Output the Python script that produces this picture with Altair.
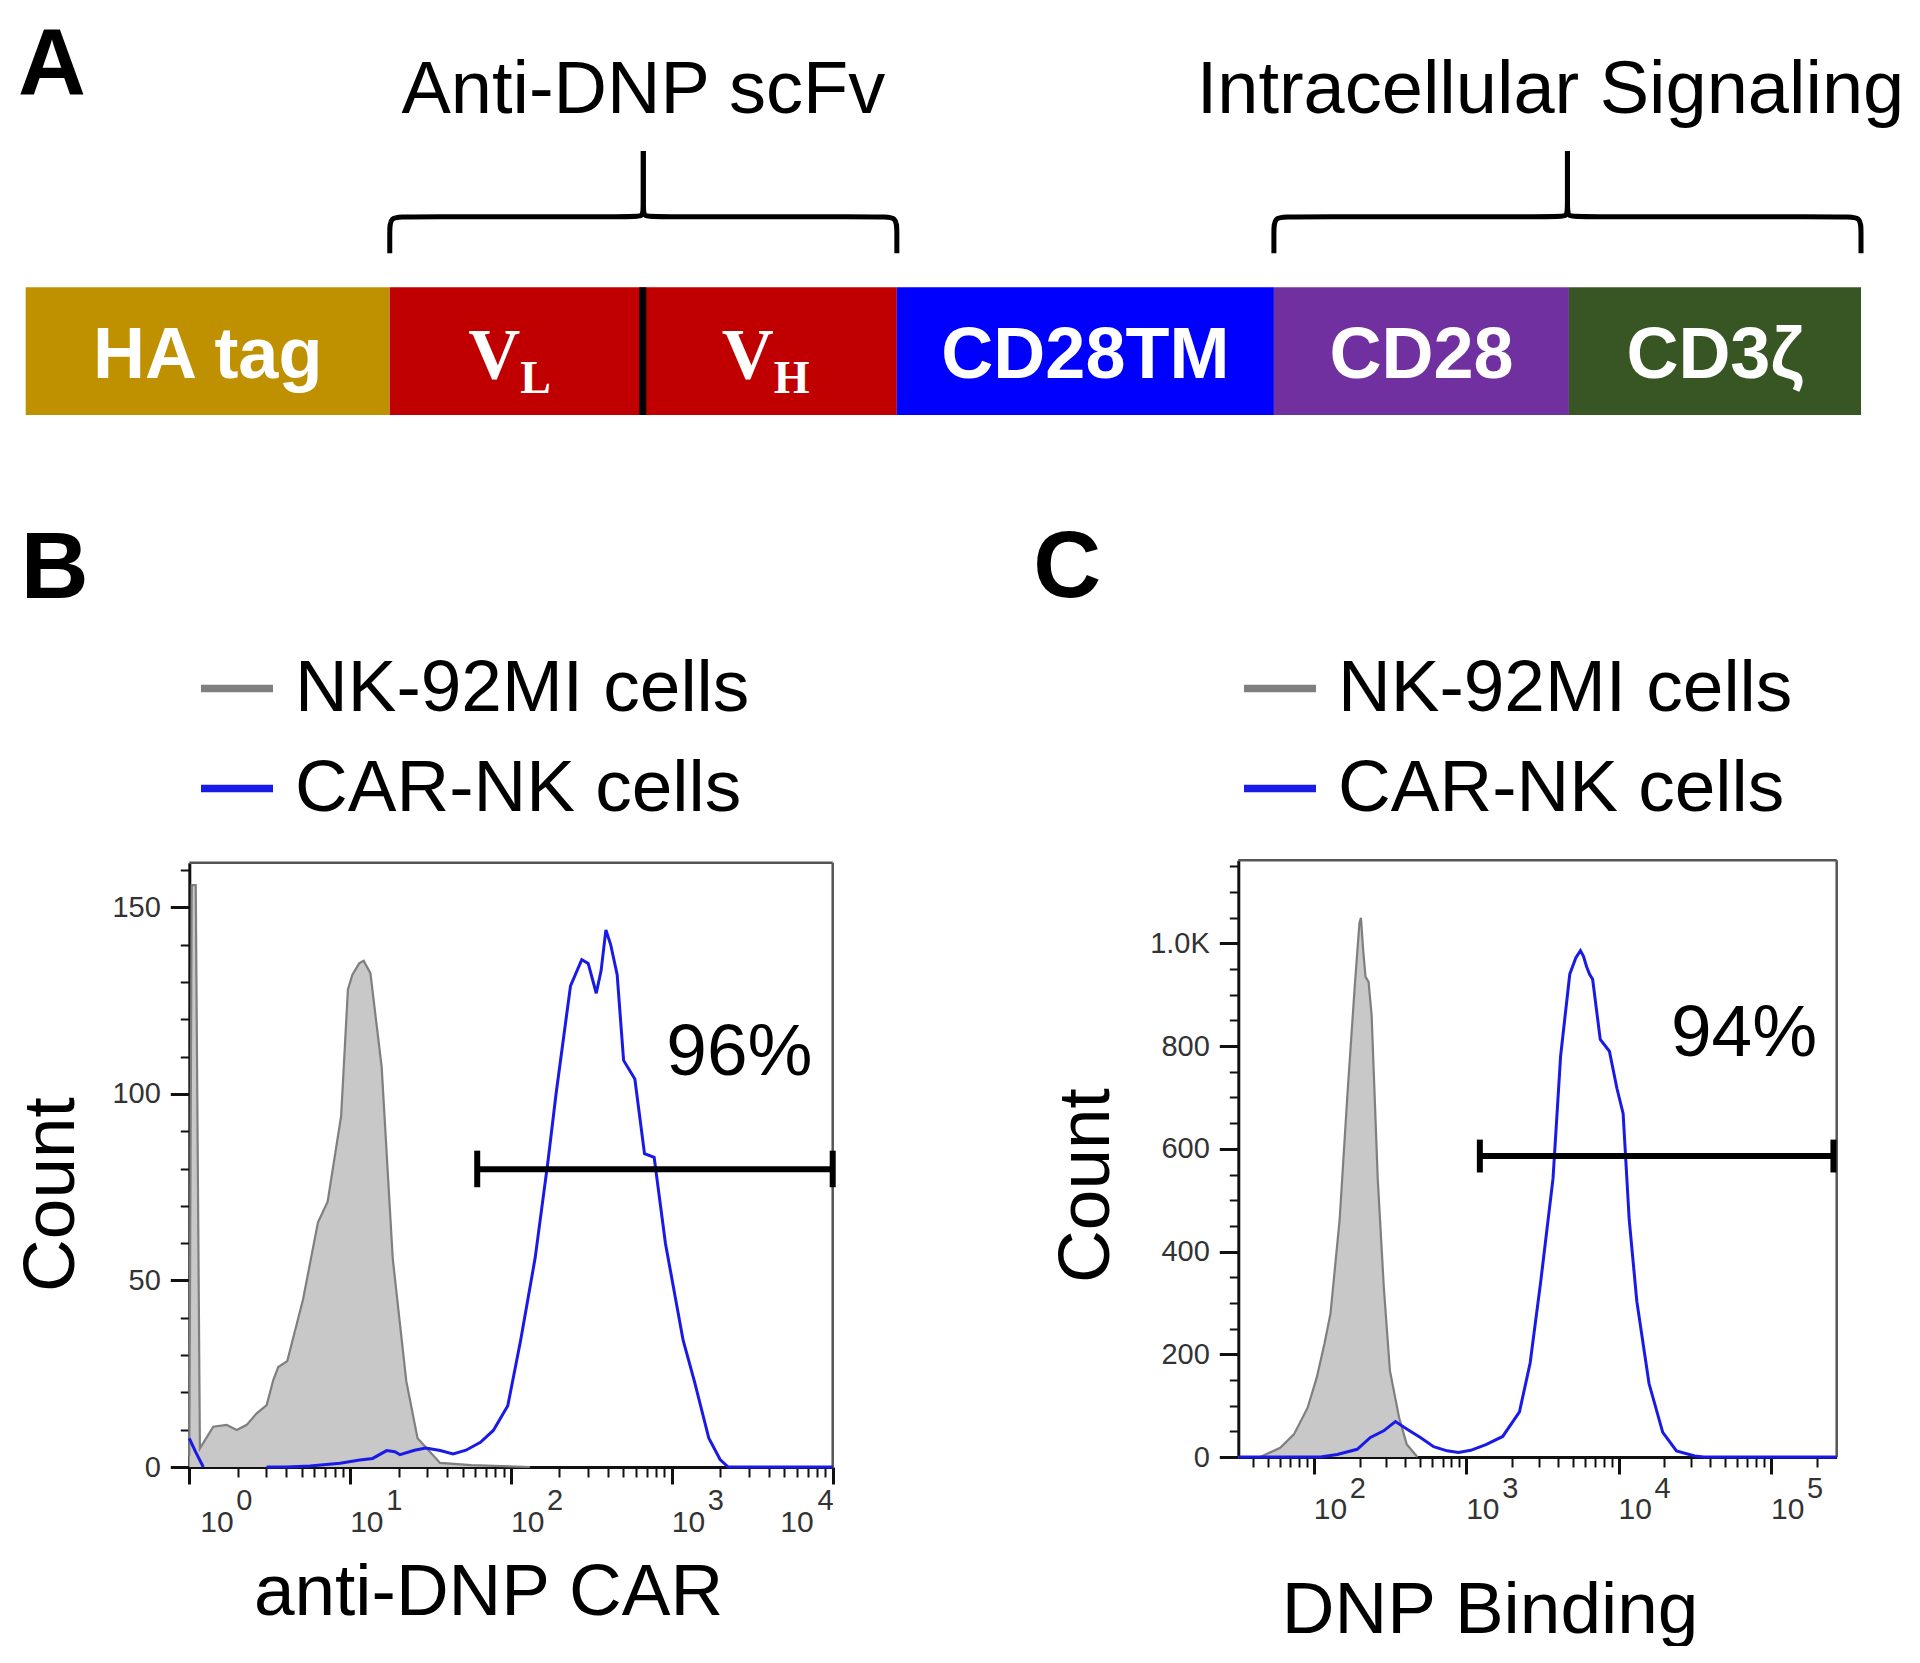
import altair as alt
import numpy as np
import pandas as pd

FONT = "Liberation Sans"
SERIF = "Liberation Serif"
W, H = 1904, 1638

# ---------------- Panel A : CAR construct ----------------
seg_names = ["HA tag", "VL", "VH", "CD28TM", "CD28", "CD3ζ"]
seg_lengths = [364, 253, 254, 377, 295, 292]          # relative widths
seg_colors = ["#BF9000", "#C00000", "#C00000", "#0000FF", "#7030A0", "#375623"]
seg_text = ["HA tag", "V", "V", "CD28TM", "CD28", "CD3ζ"]
seg_sub = ["", "L", "H", "", "", ""]
brace_titles = ["Anti-DNP scFv", "Intracellular Signaling"]
brace_first = ["VL", "CD28"]
brace_last = ["VH", "CD3ζ"]
brace_title_shift = [0, -17]

# ---------------- Panel B : anti-DNP CAR staining ----------------
series_names = ["NK-92MI cells", "CAR-NK cells"]
series_colors = ["#7f7f7f", "#1a1ae6"]
b_gray_log10 = [0.0, 0.015, 0.04, 0.066, 0.149, 0.232, 0.295, 0.357, 0.419, 0.481, 0.522, 0.553,
                0.609, 0.707, 0.80, 0.86, 0.944, 0.986, 1.014, 1.056, 1.084, 1.126, 1.196, 1.265,
                1.349, 1.419, 1.559, 1.754, 2.117]
b_gray_count = [3, 156, 156, 5.0, 10.8, 11.3, 9.9, 11.3, 14.4, 16.6, 23.3, 26.8,
                28.4, 44.9, 65.6, 71.1, 94.1, 128, 132, 135, 135.7, 132.4, 107.2, 55.8,
                23, 7.7, 1.1, 0.5, 0]
b_blue_log10 = [0.0, 0.04, 0.087,
                0.48, 0.6, 0.75, 0.937, 1.06, 1.14, 1.227, 1.278, 1.31, 1.40, 1.47, 1.56, 1.64,
                1.72, 1.81, 1.89, 1.98, 2.06, 2.15, 2.23, 2.28, 2.37, 2.44, 2.48, 2.53, 2.56,
                2.59, 2.62, 2.66, 2.70, 2.77, 2.83, 2.89, 2.96, 3.07, 3.14, 3.23, 3.30, 3.35, 4.0]
b_blue_count = [7.7, 4, 0,
                0, 0, 0.3, 1, 1.9, 2.3, 4.4, 4.1, 3.3, 4.5, 5.1, 4.4, 3.5,
                4.5, 6.6, 9.8, 16.4, 34, 56, 82, 100, 129, 136, 135, 127, 133,
                144, 140, 132, 109, 104, 84, 83, 60, 34, 23, 7.7, 2, 0, 0]
b_blue_part = [0, 0, 0] + [1] * 40
b_gate_log10 = [1.79, 4.0]
b_gate_count = 79.8
b_gate_caps = [75.0, 84.8]
b_percent = "96%"
b_percent_at = [3.42, 105]
b_x_domain = [1, 10000]
b_y_domain = [0, 162]

# ---------------- Panel C : DNP binding ----------------
c_gray_log10 = [1.505, 1.65, 1.78, 1.87, 1.96, 2.02, 2.07, 2.11, 2.17, 2.22, 2.27, 2.30, 2.31,
                2.325, 2.34, 2.36, 2.38, 2.42, 2.46, 2.50, 2.56, 2.61, 2.68]
c_gray_count = [0, 0, 18, 44, 96, 155, 220, 279, 462, 701, 920, 1040, 1050,
                985, 935, 925, 860, 542, 330, 168, 77, 25, 0]
c_blue_log10 = [1.505, 2.044, 2.154, 2.285, 2.372, 2.459, 2.536, 2.613, 2.70, 2.787, 2.875, 2.95,
                3.03, 3.13, 3.24, 3.35, 3.42, 3.49, 3.57, 3.62, 3.68, 3.72, 3.75, 3.77, 3.79,
                3.81, 3.83, 3.88, 3.94, 3.99, 4.03, 4.07, 4.12, 4.20, 4.29, 4.38, 4.50, 4.56, 5.431]
c_blue_count = [0, 0, 5, 15, 38, 51, 69, 54, 38, 20, 12, 9,
                13, 24, 40, 88, 183, 343, 542, 781, 940, 972, 986, 975, 955,
                940, 930, 813, 790, 717, 669, 462, 303, 143, 48, 12, 2, 0, 0]
c_gate_log10 = [3.09, 5.41]
c_gate_count = 586
c_gate_caps = [554, 618]
c_percent = "94%"
c_percent_at = [4.823, 781]
c_x_domain = [32, 270000]
c_y_domain = [0, 1162]

# ---------------- layout (pixels on the canvas) ----------------
A_X, A_Y = [17.7, 1853.0], [407.0, 279.3]
B_X, B_Y = [181.3, 824.7], [1459.0, 854.7]
C_X, C_Y = [1230.3, 1828.7], [1449.0, 852.2]

# vertical levels of panel A, in bar heights (bar = 0..1)
LABEL_BASE, SUB_BASE = 0.287, 0.17
FOOT, LINE, TIP, TITLE_BASE = 1.266, 1.553, 2.067, 2.363

# legend swatch: a thick horizontal bar built from closely stacked strokes
SWATCH = "".join(f"M-1,{o:.3f}H1" for o in (-0.075, -0.05, -0.025, 0.0, 0.025, 0.05, 0.075))


# ======================= Panel A =======================
scAx = alt.Scale(domain=[0, float(sum(seg_lengths))], range=A_X, nice=False, zero=False)
scAy = alt.Scale(domain=[0, 1], range=A_Y, nice=False, zero=False)


def XA(f):
    return alt.X(f"{f}:Q", scale=scAx, axis=None)


def YA(f):
    return alt.Y(f"{f}:Q", scale=scAy, axis=None)


ends = np.cumsum(seg_lengths).astype(float)
starts = ends - np.array(seg_lengths)
segs = pd.DataFrame({"name": seg_names, "x": starts, "x2": ends, "cx": (starts + ends) / 2,
                     "color": seg_colors, "main": seg_text, "sub": seg_sub})
segs["y"], segs["y2"], segs["ly"], segs["sy"] = 0.0, 1.0, LABEL_BASE, SUB_BASE

bars = alt.Chart(segs).mark_rect().encode(
    x=XA("x"), x2="x2:Q", y=YA("y"), y2="y2:Q", color=alt.Color("color:N", scale=None))
divider = alt.Chart(segs).transform_filter("datum.name == 'VL'").mark_rule(
    color="black", strokeWidth=7).encode(x=XA("x2"), y=YA("y"), y2="y2:Q")
seg_labels = alt.Chart(segs).transform_filter("datum.sub == ''").mark_text(
    font=FONT, fontWeight="bold", fontSize=72, color="white", align="center", baseline="alphabetic"
).encode(x=XA("cx"), y=YA("ly"), text="main:N")
v_labels = alt.Chart(segs).transform_filter("datum.sub != ''").mark_text(
    font=SERIF, fontWeight="bold", fontSize=72, color="white", align="right", baseline="alphabetic", dx=4
).encode(x=XA("cx"), y=YA("ly"), text="main:N")
v_subs = alt.Chart(segs).transform_filter("datum.sub != ''").mark_text(
    font=SERIF, fontWeight="bold", fontSize=46, color="white", align="left", baseline="alphabetic", dx=4
).encode(x=XA("cx"), y=YA("sy"), text="sub:N")

rows, titles = [], []
name_idx = {n: i for i, n in enumerate(seg_names)}
for bi, (t, f, l, sh) in enumerate(zip(brace_titles, brace_first, brace_last, brace_title_shift)):
    x0, x1 = starts[name_idx[f]], ends[name_idx[l]]
    xc = (x0 + x1) / 2
    for side, xe, sgn in (("L", x0, 1), ("R", x1, -1)):
        pts = [(xe, FOOT), (xe, LINE - 0.12), (xe, LINE), (xe + sgn * 16, LINE),
               (xc - sgn * 10, LINE), (xc, LINE), (xc, LINE + 0.08), (xc, TIP)]
        for i, (px, py) in enumerate(pts):
            rows.append({"part": f"{bi}{side}", "i": i, "x": px, "y": py})
    titles.append({"x": xc + sh, "y": TITLE_BASE, "t": t})
braces = alt.Chart(pd.DataFrame(rows)).mark_line(
    color="black", strokeWidth=5, interpolate="basis").encode(
    x=XA("x"), y=YA("y"), detail="part:N", order="i:Q")
brace_text = alt.Chart(pd.DataFrame(titles)).mark_text(
    font=FONT, fontSize=74, color="black", align="center", baseline="alphabetic").encode(
    x=XA("x"), y=YA("y"), text="t:N")
letterA = alt.Chart(pd.DataFrame({"x": [-7.7], "y": [2.506], "t": ["A"]})).mark_text(
    font=FONT, fontSize=94, fontWeight="bold", align="left", baseline="alphabetic", color="black").encode(
    x=XA("x"), y=YA("y"), text="t:N")

panelA = alt.layer(bars, divider, seg_labels, v_labels, v_subs, braces, brace_text, letterA)

# ======================= Panels B, C =======================
LOG_MAJOR = "abs(log(datum.value) / LN10 - round(log(datum.value) / LN10)) < 0.001"


def log_ticks(lo, hi):
    out = []
    for k in range(-1, 7):
        for m in range(1, 10):
            v = m * 10 ** k
            if lo - 1e-9 <= v <= hi + 1e-9:
                out.append(v)
    return out


def hist_panel(cfg):
    sx = alt.Scale(type="log", domain=cfg["xdom"], range=cfg["bx"], nice=False)
    sy = alt.Scale(type="linear", domain=cfg["ydom"], range=cfg["by"], nice=False, zero=False)
    ymaj = f"datum.value % {cfg['ymajor']} == 0"
    ax = alt.Axis(orient="bottom", offset=cfg["by"][0] - H, values=cfg["xticks"], labels=False, grid=False,
                  tickSize={"condition": {"test": LOG_MAJOR, "value": 17}, "value": 10},
                  tickWidth={"condition": {"test": LOG_MAJOR, "value": 3}, "value": 2},
                  tickColor="#111", domainColor="#111", domainWidth=3,
                  title=cfg["xlabel"], titleFont=FONT, titleFontSize=73, titleFontWeight="normal",
                  titleColor="black", titleX=cfg["xtitle_x"], titleY=cfg["xtitle_y"], titleAngle=0,
                  titleAlign="center", titleBaseline="alphabetic")
    ay = alt.Axis(orient="left", offset=-cfg["bx"][0], values=cfg["yticks"], grid=False,
                  tickSize={"condition": {"test": ymaj, "value": 19}, "value": 9},
                  tickWidth={"condition": {"test": ymaj, "value": 3}, "value": 2},
                  tickColor="#111", domainColor="#111", domainWidth=3,
                  labelExpr=cfg["ylabel_expr"], labelFont=FONT, labelFontSize=29, labelColor="#333",
                  labelPadding=10, labelOverlap=False,
                  title="Count", titleFont=FONT, titleFontSize=73, titleFontWeight="normal",
                  titleColor="black", titleAngle=270, titleX=cfg["ytitle_x"], titleY=cfg["ytitle_y"],
                  titleAlign="center", titleBaseline="alphabetic")

    def X(f):
        return alt.X(f"{f}:Q", scale=sx, axis=ax)

    def Y(f):
        return alt.Y(f"{f}:Q", scale=sy, axis=ay)

    x0, x1 = cfg["xdom"]
    y0, y1 = cfg["ydom"]
    frame = pd.DataFrame({"x": [x0, x1], "x2": [x1, x1], "y": [y1, y0], "y2": [y1, y1]})
    frame_l = alt.Chart(frame).mark_rule(color="#555", strokeWidth=2.5).encode(
        x=X("x"), x2="x2:Q", y=Y("y"), y2="y2:Q")

    gray = pd.DataFrame({"x": np.power(10.0, cfg["gray_log"]), "y": cfg["gray_cnt"],
                         "series": series_names[0], "part": 0})
    blue = pd.DataFrame({"x": np.power(10.0, cfg["blue_log"]), "y": cfg["blue_cnt"],
                         "series": series_names[1], "part": cfg["blue_part"]})
    color = alt.Color("series:N", scale=alt.Scale(domain=series_names, range=series_colors),
                      legend=alt.Legend(title=None, orient="none", direction="vertical",
                                        legendX=cfg["legend_x"], legendY=643.5, padding=0,
                                        symbolType=SWATCH, symbolSize=5184, symbolStrokeWidth=2,
                                        labelFont=FONT, labelFontSize=73, labelColor="black",
                                        labelOffset=21, labelLimit=2000, rowPadding=26))
    area = alt.Chart(gray).mark_area(color="#c8c8c8", opacity=1).encode(x=X("x"), y=Y("y"))
    gray_line = alt.Chart(gray).mark_line(strokeWidth=2.2).encode(
        x=X("x"), y=Y("y"), detail="part:N", color=color)
    blue_line = alt.Chart(blue).mark_line(strokeWidth=3).encode(
        x=X("x"), y=Y("y"), detail="part:N", color=color)
    glo, ghi = [10 ** v for v in cfg["gate_log"]]
    gate = alt.Chart(pd.DataFrame({"x": [glo], "x2": [ghi], "y": [cfg["gate_y"]]})).mark_rule(
        color="black", strokeWidth=6).encode(x=X("x"), x2="x2:Q", y=Y("y"))
    caps = alt.Chart(pd.DataFrame({"x": [glo, ghi], "y": [cfg["caps"][0]] * 2,
                                   "y2": [cfg["caps"][1]] * 2})).mark_rule(
        color="black", strokeWidth=6).encode(x=X("x"), y=Y("y"), y2="y2:Q")
    pct = alt.Chart(pd.DataFrame({"x": [10 ** cfg["pct_at"][0]], "y": [cfg["pct_at"][1]],
                                  "t": [cfg["pct"]]})).mark_text(
        font=FONT, fontSize=73, color="black", align="center", baseline="alphabetic").encode(
        x=X("x"), y=Y("y"), text="t:N")
    letter = alt.Chart(pd.DataFrame({"x": [cfg["letter_at"][0]], "y": [cfg["letter_at"][1]],
                                     "t": [cfg["letter"]]})).mark_text(
        font=FONT, fontSize=94, fontWeight="bold", color="black", align="left", baseline="alphabetic").encode(
        x=X("x"), y=Y("y"), text="t:N")

    majors = pd.DataFrame({"x": cfg["xmajors"], "y": y0, "t": "10",
                           "e": [str(int(round(np.log10(v)))) for v in cfg["xmajors"]],
                           "anchor": cfg["anchors"]})
    tick_layers = []
    d10, dex = cfg["label_dy"]
    for anchor, a10, ae, align in (("start", 11, 47, "left"), ("mid", 0, 36, "left"), ("end", -19, 1, "right")):
        base = alt.Chart(majors).transform_filter(f"datum.anchor == '{anchor}'")
        tick_layers.append(base.mark_text(font=FONT, fontSize=30, color="#333", align=align,
                                          baseline="alphabetic", dx=a10, dy=d10).encode(
            x=X("x"), y=Y("y"), text="t:N"))
        tick_layers.append(base.mark_text(font=FONT, fontSize=29, color="#333", align=align,
                                          baseline="alphabetic", dx=ae, dy=dex).encode(
            x=X("x"), y=Y("y"), text="e:N"))

    return alt.layer(frame_l, area, gray_line, blue_line, gate, caps, pct, letter, *tick_layers)


panelB = hist_panel(dict(
    xdom=b_x_domain, ydom=b_y_domain, bx=B_X, by=B_Y,
    xticks=log_ticks(*b_x_domain), yticks=list(range(0, 161, 10)), ymajor=50,
    ylabel_expr="datum.value % 50 == 0 ? datum.label : ''",
    xlabel="anti-DNP CAR", xtitle_x=480, xtitle_y=147, ytitle_x=-115.8, ytitle_y=1186,
    gray_log=b_gray_log10, gray_cnt=b_gray_count, blue_log=b_blue_log10, blue_cnt=b_blue_count,
    blue_part=b_blue_part, gate_log=b_gate_log10, gate_y=b_gate_count, caps=b_gate_caps,
    pct=b_percent, pct_at=b_percent_at, letter="B", letter_at=[0.0896, 233.07],
    legend_x=192, xmajors=[1, 10, 100, 1000, 10000], anchors=["start", "mid", "mid", "mid", "end"],
    label_dy=(65, 43)))

panelC = hist_panel(dict(
    xdom=c_x_domain, ydom=c_y_domain, bx=C_X, by=C_Y,
    xticks=log_ticks(*c_x_domain), yticks=list(range(0, 1151, 50)), ymajor=200,
    ylabel_expr="datum.value == 1000 ? '1.0K' : (datum.value % 200 == 0 ? datum.label : '')",
    xlabel="DNP Binding", xtitle_x=1481.6, xtitle_y=175, ytitle_x=-130.1, ytitle_y=1177,
    gray_log=c_gray_log10, gray_cnt=c_gray_count, blue_log=c_blue_log10, blue_cnt=c_blue_count,
    blue_part=[1] * len(c_blue_log10), gate_log=c_gate_log10, gate_y=c_gate_count, caps=c_gate_caps,
    pct=c_percent, pct_at=c_percent_at, letter="C", letter_at=[1.445, 1673.9],
    legend_x=1235, xmajors=[100, 1000, 10000, 100000], anchors=["mid"] * 4,
    label_dy=(62, 41)))

chart = alt.layer(panelA, panelB, panelC).resolve_scale(
    x="independent", y="independent", color="independent"
).resolve_axis(x="independent", y="independent").resolve_legend(color="independent").properties(
    width=W, height=H, autosize=alt.AutoSizeParams(type="none"), padding=0, background="white"
).configure_view(strokeWidth=0).configure_axis(grid=False)

chart.save("out.html", embed_options={"renderer": "svg", "actions": False})
